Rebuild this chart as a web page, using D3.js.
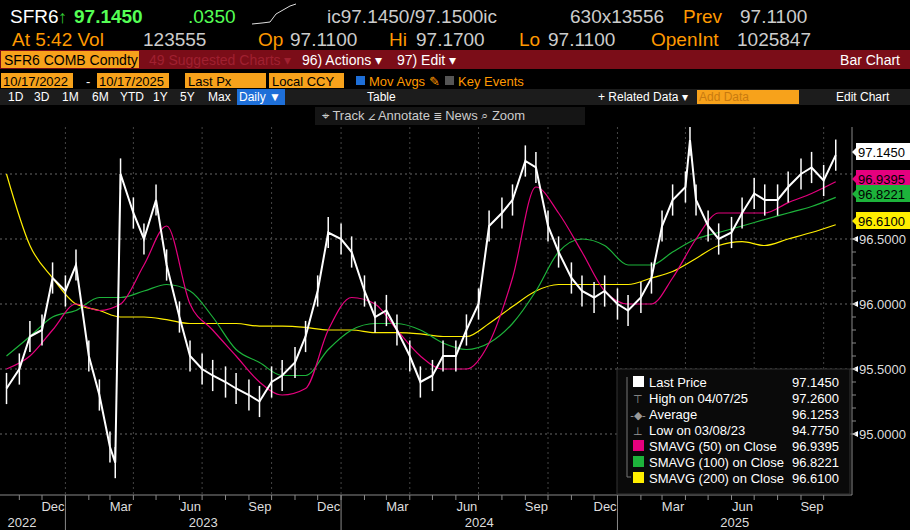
<!DOCTYPE html>
<html><head><meta charset="utf-8">
<script src="https://cdn.jsdelivr.net/npm/d3@7"></script>
<style>
body{margin:0;background:#000;}
svg text{font-family:"Liberation Sans",sans-serif;}
</style></head><body><svg id="c" width="910" height="530"></svg>
<script>
// half-monthly closes
const priceDates = ["2022-10-15","2022-11-01","2022-11-15","2022-12-01","2022-12-15","2023-01-01","2023-01-15","2023-02-01","2023-02-15","2023-03-01","2023-03-08","2023-03-15","2023-04-01","2023-04-15","2023-05-01","2023-05-15","2023-06-01","2023-06-15","2023-07-01","2023-07-15","2023-08-01","2023-08-15","2023-09-01","2023-09-15","2023-10-01","2023-10-15","2023-11-01","2023-11-15","2023-12-01","2023-12-15","2024-01-01","2024-01-15","2024-02-01","2024-02-15","2024-03-01","2024-03-15","2024-04-01","2024-04-15","2024-05-01","2024-05-15","2024-06-01","2024-06-15","2024-07-01","2024-07-15","2024-08-01","2024-08-15","2024-09-01","2024-09-15","2024-10-01","2024-10-15","2024-11-01","2024-11-15","2024-12-01","2024-12-15","2025-01-01","2025-01-15","2025-02-01","2025-02-15","2025-03-01","2025-03-15","2025-04-01","2025-04-07","2025-04-15","2025-05-01","2025-05-15","2025-06-01","2025-06-15","2025-07-01","2025-07-15","2025-08-01","2025-08-15","2025-09-01","2025-09-15","2025-10-01","2025-10-17"];
const priceValues = [95.35,95.5,95.75,95.8,96.2,96.1,96.3,95.6,95.3,94.9,94.78,97.0,96.7,96.5,96.8,96.3,95.9,95.6,95.5,95.45,95.4,95.35,95.3,95.25,95.4,95.45,95.55,95.75,96.1,96.55,96.5,96.4,96.1,95.9,95.95,95.8,95.6,95.4,95.45,95.6,95.6,95.8,96.0,96.6,96.7,96.8,97.1,97.05,96.6,96.4,96.2,96.1,96.05,96.1,96.0,95.95,96.05,96.2,96.6,96.8,96.9,97.26,96.8,96.6,96.5,96.55,96.7,96.85,96.8,96.8,96.9,97.0,97.05,96.95,97.145];

const smaDates = ["2022-10-15","2022-11-15","2022-12-15","2023-01-15","2023-02-15","2023-03-15","2023-04-15","2023-05-15","2023-06-15","2023-07-15","2023-08-15","2023-09-15","2023-10-15","2023-11-15","2023-12-15","2024-01-15","2024-02-15","2024-03-15","2024-04-15","2024-05-15","2024-06-15","2024-07-15","2024-08-15","2024-09-15","2024-10-15","2024-11-15","2024-12-15","2025-01-15","2025-02-15","2025-03-15","2025-04-15","2025-05-15","2025-06-15","2025-07-15","2025-08-15","2025-09-15","2025-10-17"];
const sma50 = [95.5,95.6,95.8,96.0,95.95,96.0,96.3,96.6,96.0,95.8,95.6,95.4,95.3,95.35,95.8,96.05,96.0,95.8,95.6,95.5,95.5,95.7,96.2,96.9,96.7,96.4,96.1,96.0,96.0,96.2,96.5,96.7,96.7,96.7,96.78,96.85,96.94];
const sma100 = [95.6,95.75,95.9,95.95,96.05,96.05,96.1,96.15,96.1,95.9,95.65,95.55,95.45,95.45,95.65,95.8,95.85,95.85,95.8,95.7,95.65,95.7,95.85,96.1,96.4,96.5,96.45,96.3,96.3,96.4,96.5,96.55,96.6,96.65,96.7,96.75,96.82];
const sma200 = [97.0,96.45,96.2,96.0,95.95,95.9,95.9,95.88,95.85,95.85,95.85,95.83,95.83,95.82,95.8,95.8,95.78,95.78,95.77,95.75,95.75,95.85,95.98,96.1,96.15,96.15,96.15,96.15,96.2,96.25,96.35,96.45,96.48,96.45,96.5,96.55,96.61];

const yTicks = [95.0,95.5,96.0,96.5,97.0];
const monthLabels = ["Dec","Mar","Jun","Sep"];
const yearLabels = ["2022","2023","2024","2025"];
const legendRows = [
  ["Last Price","97.1450","#fff","sq"],["High on 04/07/25","97.2600","#aaa","hi"],
  ["Average","96.1253","#aaa","av"],["Low on 03/08/23","94.7750","#aaa","lo"],
  ["SMAVG (50)  on Close","96.9395","#e6007e","sq"],["SMAVG (100)  on Close","96.8221","#1db33b","sq"],
  ["SMAVG (200)  on Close","96.6100","#ffee00","sq"]];
const lastTags = [[97.145,"97.1450","#fff",152],[96.9395,"96.9395","#e6007e",179],[96.8221,"96.8221","#1db33b",194],[96.61,"96.6100","#ffee00",221]];

const svg = d3.select("#c");
const parse = d3.timeParse("%Y-%m-%d");
const W = 852, plotTop = 127, bot = 495;
const x = d3.scaleTime().domain([parse("2022-12-01"), parse("2025-09-01")]).range([42, 801]);
const y = d3.scaleLinear().domain([95, 96.5]).range([434, 239]);

// header
const t = (xx, yy, s, c, fs, anchor) => svg.append("text").attr("x", xx).attr("y", yy).text(s)
  .attr("fill", c).attr("font-size", fs || 19).attr("text-anchor", anchor || "start");
t(10, 23, "SFR6", "#fff"); t(58, 23, "↑", "#3c3", 18);
t(74, 23, "97.1450", "#5f5").attr("font-weight", "bold");
t(188, 23, ".0350", "#5f5");
t(327, 23, "ic97.1450/97.1500ic", "#ccc"); t(570, 23, "630x13556", "#ccc");
t(683, 23, "Prev", "#f90"); t(740, 23, "97.1100", "#ccc");
t(12, 46, "At 5:42 Vol", "#f90"); t(143, 46, "123555", "#ccc");
t(258, 46, "Op", "#f90"); t(290, 46, "97.1100", "#ccc");
t(389, 46, "Hi", "#f90"); t(416, 46, "97.1700", "#ccc");
t(519, 46, "Lo", "#f90"); t(548, 46, "97.1100", "#ccc");
t(651, 46, "OpenInt", "#f90"); t(737, 46, "1025847", "#ccc");
svg.append("path").attr("d", "M252 24 L262 23 L270 22 L276 14 L283 10 L290 6 L296 4").attr("stroke", "#ddd").attr("fill", "none");

svg.append("rect").attr("x", 0).attr("y", 50).attr("width", 910).attr("height", 19).attr("fill", "#7b0d18");
svg.append("rect").attr("x", 1).attr("y", 51).attr("width", 138).attr("height", 17).attr("fill", "#f7a21b");
t(4, 65, "SFR6 COMB Comdty", "#000", 14);
t(149, 65, "49 Suggested Charts ▾", "#a02030", 14);
t(302, 65, "96) Actions ▾", "#fff", 14); t(397, 65, "97) Edit ▾", "#fff", 14);
t(900, 65, "Bar Chart", "#fff", 14, "end");
[[1,72],[97,72],[185,81],[269,75]].forEach(b => svg.append("rect").attr("x", b[0]).attr("y", 73).attr("width", b[1]).attr("height", 15).attr("fill", "#f7a21b"));
t(3, 86, "10/17/2022", "#000", 13); t(86, 86, "-", "#fff", 13); t(99, 86, "10/17/2025", "#000", 13);
t(188, 86, "Last Px", "#000", 13); t(272, 86, "Local CCY", "#000", 13);
svg.append("rect").attr("x", 356).attr("y", 76).attr("width", 9).attr("height", 9).attr("fill", "#1e6fd8");
t(369, 86, "Mov Avgs ✎", "#f90", 13);
svg.append("rect").attr("x", 445).attr("y", 76).attr("width", 9).attr("height", 9).attr("fill", "#555");
t(458, 86, "Key Events", "#f90", 13);
svg.append("rect").attr("x", 0).attr("y", 89).attr("width", 910).attr("height", 16).attr("fill", "#1c1c1c");
svg.append("rect").attr("x", 237).attr("y", 89).attr("width", 48).attr("height", 16).attr("fill", "#1e6fd8");
[["1D",8],["3D",34],["1M",62],["6M",92],["YTD",120],["1Y",153],["5Y",180],["Max",208],["Daily ▼",239],["Table",367],["+ Related Data ▾",598],["Edit Chart",836]]
  .forEach(d => t(d[1], 101, d[0], "#fff", 12));
svg.append("rect").attr("x", 697).attr("y", 90).attr("width", 102).attr("height", 14).attr("fill", "#f7a21b");
t(699, 101, "Add Data", "#c87a10", 12);
svg.append("rect").attr("x", 315).attr("y", 107).attr("width", 270).attr("height", 18).attr("fill", "#151515");
t(322, 120, "⌖ Track   ∠ Annotate   ≣ News   ⌕ Zoom", "#ccc", 13);

// grid + right axis
const g = svg.append("g");
yTicks.forEach(v => g.append("line").attr("x1", 0).attr("x2", W).attr("y1", y(v)).attr("y2", y(v))
  .attr("stroke", "#666").attr("stroke-dasharray", "2,3"));
g.append("line").attr("x1", W).attr("x2", W).attr("y1", plotTop).attr("y2", bot).attr("stroke", "#888");
yTicks.filter(v => v < 97).forEach(v => {
  g.append("path").attr("d", `M${W} ${y(v)} l6 -3 v6z`).attr("fill", "#fff");
  t(W + 7, y(v) + 5, v.toFixed(4), "#ddd", 13);
});
y.ticks(20).forEach(v => g.append("line").attr("x1", W).attr("x2", W + 4).attr("y1", y(v)).attr("y2", y(v)).attr("stroke", "#888"));

const months = d3.timeMonth.range(parse("2022-11-01"), parse("2025-11-01"));
months.forEach(m => {
  if (m.getMonth() % 3 === 0) g.append("line").attr("x1", x(m)).attr("x2", x(m)).attr("y1", plotTop).attr("y2", bot)
    .attr("stroke", "#444").attr("stroke-dasharray", "2,3");
});

// series
svg.append("clipPath").attr("id", "cp").append("rect").attr("x", 0).attr("y", plotTop).attr("width", W).attr("height", bot - plotTop);
const plot = svg.append("g").attr("clip-path", "url(#cp)");
const smaLine = d3.line().x(d => x(d[0])).y(d => y(d[1])).curve(d3.curveMonotoneX);
const smaD = smaDates.map(parse);
[[sma200, "#ffee00"], [sma100, "#1db33b"], [sma50, "#e6007e"]].forEach(([vals, col]) =>
  plot.append("path").attr("d", smaLine(smaD.map((d, i) => [d, vals[i]]))).attr("fill", "none").attr("stroke", col).attr("stroke-width", 1.2));
const pD = priceDates.map(parse);
plot.append("path").attr("d", d3.line().x(d => x(d[0])).y(d => y(d[1]))(pD.map((d, i) => [d, priceValues[i]])))
  .attr("fill", "none").attr("stroke", "#fff").attr("stroke-width", 2);
plot.selectAll("line.bar").data(pD).join("line").attr("class", "bar")
  .attr("x1", d => x(d)).attr("x2", d => x(d))
  .attr("y1", (d, i) => y(priceValues[i] + 0.12)).attr("y2", (d, i) => y(priceValues[i] - 0.12))
  .attr("stroke", "#fff").attr("stroke-width", 1.5);

// last value tags
lastTags.forEach(l => {
  svg.append("rect").attr("x", W + 4).attr("y", l[3] - 9).attr("width", 55).attr("height", 17).attr("fill", l[2]);
  svg.append("path").attr("d", `M${W} ${l[3]} l5 -5 v10z`).attr("fill", l[2]);
  t(W + 6, l[3] + 5, l[1], "#000", 13);
});

// bottom axis
svg.append("line").attr("x1", 0).attr("x2", W).attr("y1", bot).attr("y2", bot).attr("stroke", "#888");
months.forEach(m => svg.append("line").attr("x1", x(m)).attr("x2", x(m)).attr("y1", bot).attr("y2", bot + 5).attr("stroke", "#888"));
months.filter(m => m.getMonth() % 3 === 2 && x(m) < W).forEach(m => t(x(m) + 11, 511, monthLabels[[11, 2, 5, 8].indexOf(m.getMonth())], "#ddd", 13, "middle"));
const years = [parse("2023-01-01"), parse("2024-01-01"), parse("2025-01-01")];
years.forEach(d => svg.append("line").attr("x1", x(d)).attr("x2", x(d)).attr("y1", bot).attr("y2", 530).attr("stroke", "#888"));
const yrMid = [[0, x(years[0])], [x(years[0]), x(years[1])], [x(years[1]), x(years[2])], [x(years[2]), W]];
yearLabels.forEach((s, i) => t(i === 0 ? 22 : (yrMid[i][0] + yrMid[i][1]) / 2, 527, s, "#ddd", 13, "middle"));

// legend
const lg = svg.append("g").attr("transform", "translate(617,369)");
lg.append("rect").attr("width", 233).attr("height", 125).attr("fill", "#0a0a0a").attr("stroke", "#333");
legendRows.forEach((r, i) => {
  const yy = 13 + i * 16;
  if (r[3] === "sq") lg.append("rect").attr("x", 16).attr("y", yy - 6).attr("width", 11).attr("height", 11).attr("fill", r[2]);
  else lg.append("text").attr("x", 21).attr("y", yy + 5).text(r[3] === "av" ? "-◆-" : (r[3] === "hi" ? "⊤" : "⊥")).attr("fill", "#999").attr("font-size", 11).attr("text-anchor", "middle");
  lg.append("text").attr("x", 32).attr("y", yy + 5).text(r[0]).attr("fill", "#fff").attr("font-size", 13);
  lg.append("text").attr("x", 222).attr("y", yy + 5).text(r[1]).attr("fill", "#fff").attr("font-size", 13).attr("text-anchor", "end");
});
lg.append("path").attr("d", "M10 8 V108 H14").attr("stroke", "#777").attr("fill", "none");
</script></body></html>
